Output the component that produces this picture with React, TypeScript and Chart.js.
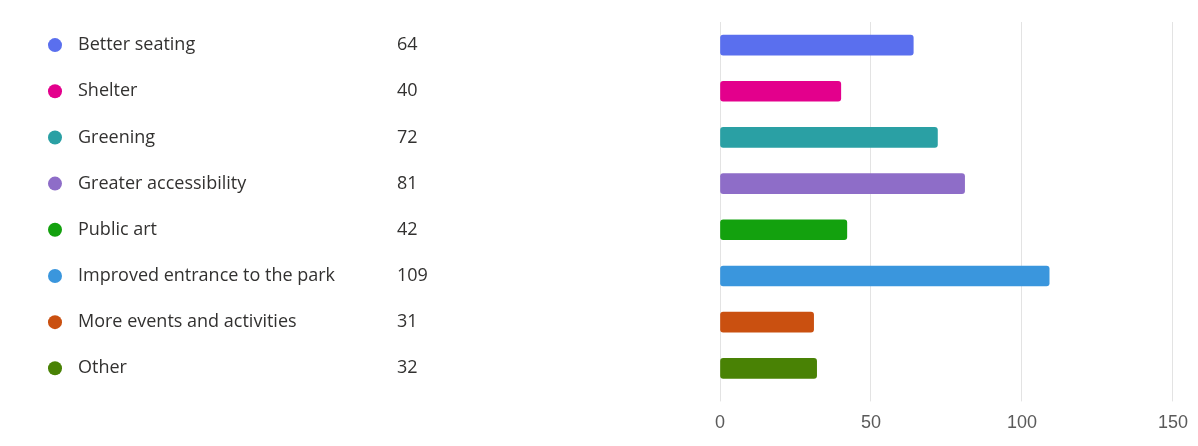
import React, { useEffect, useRef } from "react";
import { Chart, registerables } from "chart.js";

Chart.register(...registerables);

const categories = [
  "Better seating",
  "Shelter",
  "Greening",
  "Greater accessibility",
  "Public art",
  "Improved entrance to the park",
  "More events and activities",
  "Other",
];
const counts = [64, 40, 72, 81, 42, 109, 31, 32];
const colors = [
  "#5A6FEE",
  "#E3008C",
  "#2AA0A4",
  "#8E6DC8",
  "#13A10E",
  "#3A96DD",
  "#CA5010",
  "#498205",
];
const xTicks = [0, 50, 100, 150];

const listPlugin = {
  id: "leftList",
  afterDraw(chart: any) {
    const ctx = chart.ctx;
    const y = chart.scales.y;
    ctx.save();
    ctx.textBaseline = "middle";
    ctx.font = "18px 'Open Sans'";
    categories.forEach((c, i) => {
      const py = y.getPixelForValue(i);
      ctx.fillStyle = colors[i];
      ctx.beginPath();
      ctx.arc(47, py, 7, 0, Math.PI * 2);
      ctx.fill();
      ctx.fillStyle = "#323130";
      ctx.textAlign = "left";
      ctx.fillText(c, 70, py);
      ctx.fillText(String(counts[i]), 389, py);
    });
    ctx.restore();
  },
};

export default function App() {
  const ref = useRef<HTMLCanvasElement>(null);
  useEffect(() => {
    if (!ref.current) return;
    const chart = new Chart(ref.current, {
      type: "bar",
      data: {
        labels: categories,
        datasets: [
          {
            data: counts,
            backgroundColor: colors,
            borderRadius: 3,
            borderSkipped: false,
            barThickness: 20,
          },
        ],
      },
      options: {
        indexAxis: "y",
        animation: false,
        responsive: false,
        maintainAspectRatio: false,
        layout: { padding: { left: 712, right: 17, top: 14, bottom: -7 } },
        plugins: { legend: { display: false }, tooltip: { enabled: false } },
        scales: {
          x: {
            min: 0,
            max: 150,
            afterBuildTicks: (s: any) => {
              s.ticks = xTicks.map((v) => ({ value: v }));
            },
            grid: { color: "#E3E3E3", tickLength: 10, drawTicks: true },
            border: { display: false },
            ticks: {
              color: "#5A5A5A",
              padding: 2,
              font: { family: "'Liberation Sans', Arial", size: 18, lineHeight: 2.2 },
            },
          },
          y: { display: false },
        },
      },
      plugins: [listPlugin],
    });
    return () => chart.destroy();
  }, []);
  return (
    <div style={{ width: 1182, height: 430 }}>
      <canvas ref={ref} width={1182} height={430} />
    </div>
  );
}
